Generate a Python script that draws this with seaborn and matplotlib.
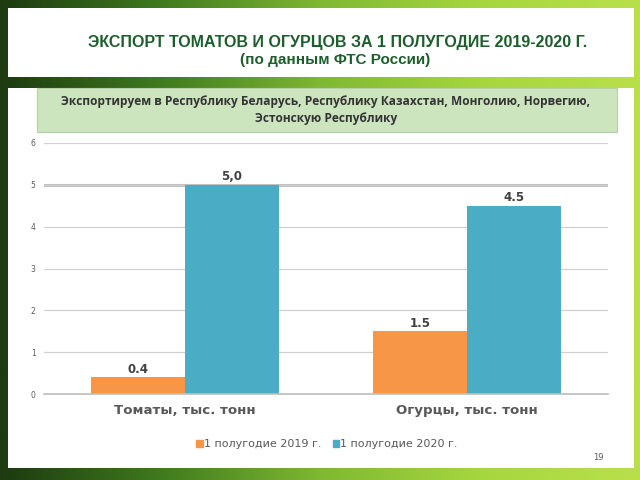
import numpy as np
import pandas as pd
import matplotlib
matplotlib.use("Agg")
import matplotlib.pyplot as plt
import seaborn as sns
from matplotlib.patches import Rectangle
from matplotlib.colors import LinearSegmentedColormap

# data
categories = ["Томаты, тыс. тонн", "Огурцы, тыс. тонн"]
periods = ["1 полугодие 2019 г.", "1 полугодие 2020 г."]
values_2019 = [0.4, 1.5]
values_2020 = [5.0, 4.5]
labels_2019 = ["0.4", "1.5"]
labels_2020 = ["5,0", "4.5"]
y_ticks = [0, 1, 2, 3, 4, 5, 6]

df = pd.DataFrame({
    "category": categories + categories,
    "period": [periods[0]] * 2 + [periods[1]] * 2,
    "value": values_2019 + values_2020,
})

ORANGE = "#F79646"
BLUE = "#4BACC6"
GRAY = "#595959"

sns.set_theme(style="white")
plt.rcParams['font.family'] = ['DejaVu Sans']

fig = plt.figure(figsize=(6.4, 4.8), dpi=100)

# leafy green background (plain gradient)
bg = fig.add_axes([0, 0, 1, 1])
leaf = LinearSegmentedColormap.from_list(
    "leaf", ["#1d3a10", "#3f7a1e", "#7fb832", "#a6d63e", "#b9e04a"])
bg.imshow(np.linspace(0, 1, 256).reshape(1, -1), aspect="auto", cmap=leaf,
          extent=[0, 1, 0, 1])
bg.set_xlim(0, 1)
bg.set_ylim(0, 1)
bg.axis("off")

# white panels
bg.add_patch(Rectangle((8 / 640, 1 - 77 / 480), 626 / 640, 69 / 480,
                       facecolor="white", edgecolor="none"))
bg.add_patch(Rectangle((8 / 640, 1 - 468 / 480), 626 / 640, 380 / 480,
                       facecolor="white", edgecolor="none"))
# light green note box
bg.add_patch(Rectangle((37 / 640, 1 - 132 / 480), 580 / 640, 44 / 480,
                       facecolor="#cde5bf", edgecolor="#b5cfa6", lw=0.8))

# title
fig.text(338 / 640, 1 - 42 / 480,
         "ЭКСПОРТ ТОМАТОВ И ОГУРЦОВ ЗА 1 ПОЛУГОДИЕ 2019-2020 Г.",
         ha="center", va="center", fontsize=11.5, fontweight="bold",
         color="#1d5e2c", family=["Liberation Sans", "DejaVu Sans"])
fig.text(335 / 640, 1 - 60 / 480, "(по данным ФТС России)",
         ha="center", va="center", fontsize=11, fontweight="bold",
         color="#1d5e2c", family=["Liberation Sans", "DejaVu Sans"])

fig.text(326 / 640, 1 - 110 / 480,
         "Экспортируем в Республику Беларусь, Республику Казахстан, Монголию, Норвегию,\n"
         "Эстонскую Республику",
         ha="center", va="center", fontsize=8.6, fontweight="bold",
         color="#333333", linespacing=1.45, family=["Open Sans", "DejaVu Sans"])

# chart
ax = fig.add_axes([44 / 640, 1 - 394 / 480, 564 / 640, 251 / 480])
ax.set_facecolor("none")
sns.barplot(data=df, x="category", y="value", hue="period",
            palette=[ORANGE, BLUE], saturation=1, width=0.667, linewidth=0,
            legend=False, ax=ax)
ax.set_xlim(-0.5, 1.5)
ax.set_ylim(0, 6)
ax.set_yticks(y_ticks)
ax.set_yticklabels([str(t) for t in y_ticks], fontsize=5.5, color=GRAY)
ax.yaxis.grid(True, color="#d0d0d0", lw=0.9)
ax.axhline(5, color="#bdbdbd", lw=2.2, zorder=0.5)
ax.set_axisbelow(True)
for s in ["top", "right", "left"]:
    ax.spines[s].set_visible(False)
ax.spines["bottom"].set_color("#bfbfbf")
ax.tick_params(axis="y", length=0, pad=6)
ax.tick_params(axis="x", length=0, pad=7)
ax.set_xticklabels(categories, fontsize=9.6, fontweight="bold", color=GRAY)
ax.set_xlabel("")
ax.set_ylabel("")

ax.bar_label(ax.containers[0], labels=labels_2019, padding=1,
             fontsize=8.5, fontweight="bold", color="#404040")
ax.bar_label(ax.containers[1], labels=labels_2020, padding=1,
             fontsize=8.5, fontweight="bold", color="#404040")

handles = [Rectangle((0, 0), 1, 1, color=ORANGE), Rectangle((0, 0), 1, 1, color=BLUE)]
fig.legend(handles, periods, loc="center", bbox_to_anchor=(327 / 640, 1 - 444 / 480),
           ncol=2, frameon=False, fontsize=8, handlelength=0.6, handleheight=0.6,
           handletextpad=0.1, columnspacing=1.0, labelcolor=GRAY)

fig.text(598 / 640, 1 - 458 / 480, "19", fontsize=6, color=GRAY,
         ha="center", va="center")

fig.savefig("out.png", dpi=100)
